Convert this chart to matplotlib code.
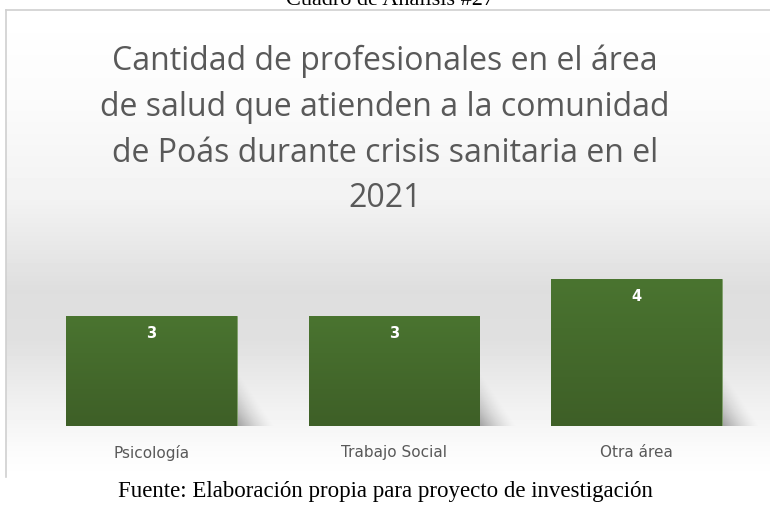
import matplotlib
matplotlib.use('Agg')
import matplotlib.pyplot as plt
import numpy as np
from matplotlib.colors import LinearSegmentedColormap

# Data
categories = ['Psicología', 'Trabajo Social', 'Otra área']
values = [3, 3, 4]
title = 'Cantidad de profesionales en el área\nde salud que atienden a la comunidad\nde Poás durante crisis sanitaria en el\n2021'

W, H = 770, 506
fig = plt.figure(figsize=(W / 100, H / 100), dpi=100)
fig.patch.set_facecolor('white')

# Background gradient for the chart area (page coords in pixels)
bg = fig.add_axes([6 / W, 1 - 478 / H, 1 - 6 / W, (478 - 11) / H], zorder=0)
stops_y = np.array([0, 90, 190, 280, 330, 400, 440, 467])
stops_v = np.array([255, 251, 242, 222, 224, 242, 251, 255]) / 255
col = np.interp(np.arange(467), stops_y, stops_v)
img = np.repeat(col[:, None], 2, axis=1)
bg.imshow(img, aspect='auto', cmap='gray', vmin=0, vmax=1, extent=[0, 1, 0, 1])
bg.set_xticks([])
bg.set_yticks([])
for side in ['right', 'bottom']:
    bg.spines[side].set_visible(False)
for side in ['left', 'top']:
    bg.spines[side].set_color('#d0d0d0')
    bg.spines[side].set_linewidth(1.2)

# Bar axes
ax = fig.add_axes([30.25 / W, 1 - 427 / H, 727.5 / W, 183.3 / H], zorder=2)
ax.set_facecolor('none')
ax.set_xlim(-0.5, 2.5)
ax.set_ylim(0, 5)
x = np.arange(len(categories))
bw = 0.705
bars = ax.bar(x, values, width=bw, color='#4a7430', edgecolor='#7f9f6a', linewidth=0.6, zorder=3)

# vertical gradient on bars + soft shadow
grad = LinearSegmentedColormap.from_list('g', ['#3e5f27', '#4a7430'])
gimg = np.linspace(0, 1, 100)[:, None]
uu, vv = np.meshgrid(np.linspace(0, 1, 60), np.linspace(0, 1, 60))
alpha = np.clip(1 - uu - vv * 1.1, 0, 1) ** 1.5 * 0.35
shadow = np.zeros((60, 60, 4))
shadow[..., 3] = alpha
for b in bars:
    x0, w, h = b.get_x(), b.get_width(), b.get_height()
    ax.imshow(gimg, cmap=grad, aspect='auto', origin='lower',
              extent=[x0, x0 + w, 0, h], zorder=3.5, clip_on=False)
    ax.imshow(shadow, aspect='auto', origin='lower',
              extent=[x0 + w, x0 + w + 0.16, 0, 1.7], zorder=2, interpolation='bilinear')
    ax.text(x0 + w / 2, h - 0.44, str(int(h)), ha='center', va='center',
            color='white', fontsize=10.5, fontweight='bold', family='DejaVu Sans', zorder=5)

ax.set_xticks(x)
ax.set_xticklabels(categories, color='#595959', fontsize=11,
                   family=['Liberation Sans Narrow', 'DejaVu Sans'])
ax.tick_params(axis='x', length=0, pad=13)
ax.set_yticks([])
for s in ax.spines.values():
    s.set_visible(False)

# Title
fig.text(385 / W, 1 - 45 / H, title, ha='center', va='top', fontsize=23,
         color='#595959', family=['Open Sans', 'DejaVu Sans'], linespacing=1.5, zorder=5)

# page texts
fig.text(390 / W, 1 - 5 / H, 'Cuadro de Análisis #27', ha='center', va='baseline',
         fontsize=16, color='black', family='Liberation Serif')
fig.text(385 / W, 1 - 497 / H, 'Fuente: Elaboración propia para proyecto de investigación',
         ha='center', va='baseline', fontsize=16.5, color='black', family='Liberation Serif')

fig.savefig('out.png', dpi=100)
